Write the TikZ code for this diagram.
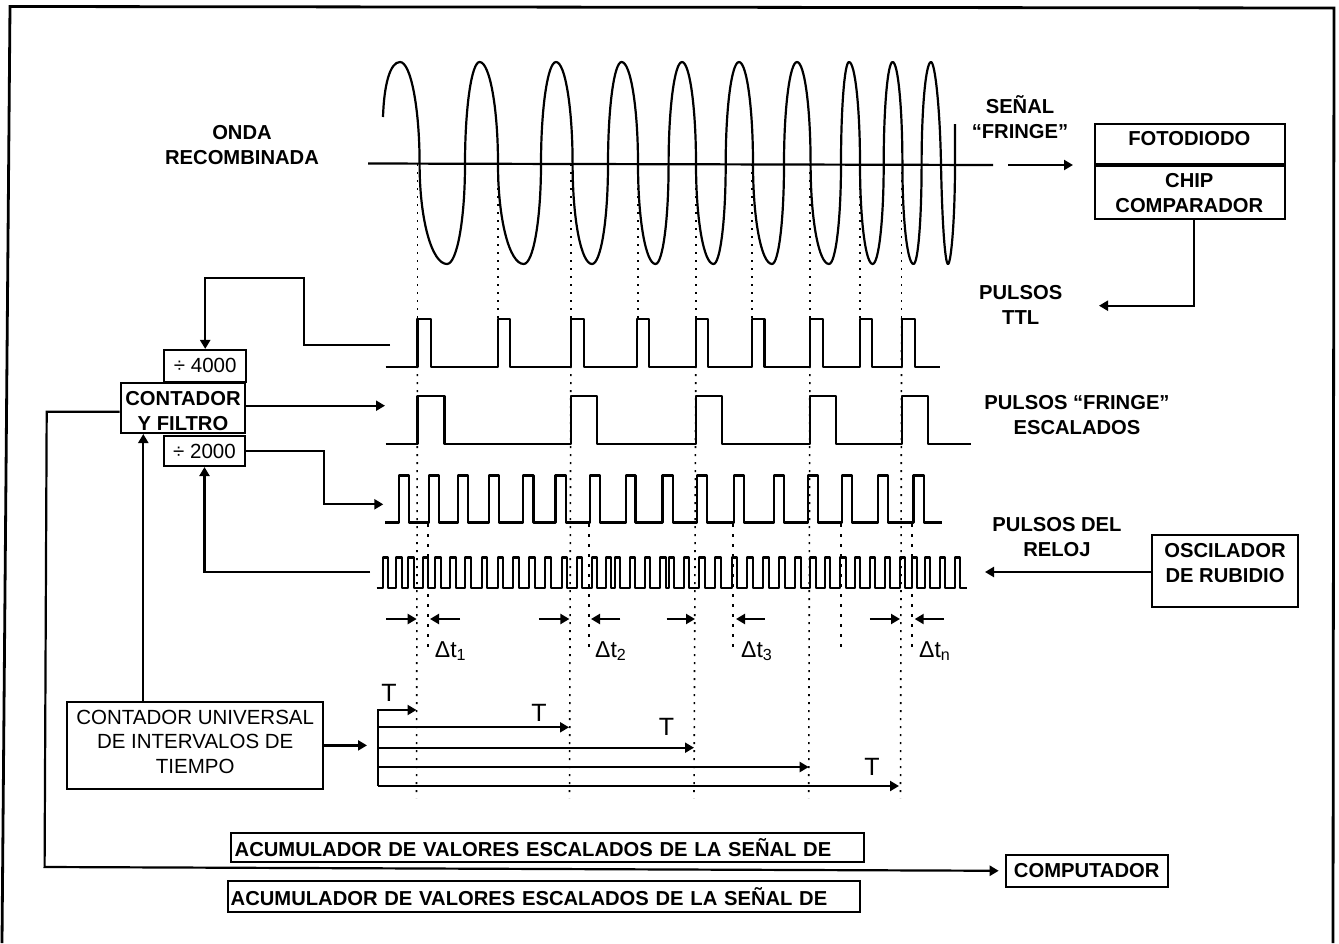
\documentclass[tikz,border=0pt]{standalone}
\usepackage{fontspec}
\setmainfont{Liberation Sans}
\usepackage{tikz}
\usetikzlibrary{arrows.meta}
\def\pulsos(#1:#2:#3:#4)#5{\draw[linea] (#3,#1) foreach \a/\b in {#5} { -- (\a,#1) -- (\a,#2) -- (\b,#2) -- (\b,#1)} -- (#4,#1);}
\tikzset{
	linea/.style={line width=2.2pt,line join=round},
	flecha/.style={line width=2.2pt,-{Triangle[length=9pt,width=10pt]}},
	puntos/.style={line width=1.6pt,dash pattern=on 2pt off 6pt},
	puntosb/.style={line width=2.2pt,dash pattern=on 3pt off 7pt},
	caja/.style={draw,line width=2pt,inner sep=0pt},
	negra/.style={inner sep=0pt,align=center,font=\fontsize{20.2}{25}\selectfont\bfseries},
	fina/.style={inner sep=0pt,align=center,font=\fontsize{20.5}{24.5}\selectfont},
	delta/.style={inner sep=0pt,anchor=base west,font=\fontsize{23}{25}\selectfont},
	letra/.style={inner sep=0pt,font=\fontsize{25}{25}\selectfont},
}

\begin{document}
\begin{tikzpicture}[x=1pt,y=-1pt]
			%%%%% START %%%%%
			\def\ycero{164}
			\def\ycima{62}
			\def\yvalle{264}
			\def\ydelta{619}
			\def\yfin{798}

			\useasboundingbox (0,0) rectangle (1339,943);
			\draw[line width=2.8pt] (2,943) -- (10,6.5) -- (1334,8) -- (1333,943);

			% onda
			\draw[linea] (383,117) .. controls (384,85) and (390,\ycima) .. (400,\ycima)
				foreach \p/\c/\m/\u/\n in {400/419.6/447/465/479.6,479.6/498/523.7/541/556,556/572.6/592/608/621.6,621.6/638/655.5/668.6/682,682/696/713.5/725.7/739,739/753/772/784/797,797/810.6/829/841/849,849/860/872.6/883.7/892.6,892.6/902.4/913.5/921.6/931}
				{ .. controls ({\p+0.55*(\c-\p)},\ycima) and (\c,108) .. (\c,\ycero)
				  .. controls (\c,220) and ({\m-0.55*(\m-\c)},\yvalle) .. (\m,\yvalle)
				  .. controls ({\m+0.55*(\u-\m)},\yvalle) and (\u,220) .. (\u,\ycero)
				  .. controls (\u,108) and ({\n-0.55*(\n-\u)},\ycima) .. (\n,\ycima)}
				.. controls (935,\ycima) and (940,108) .. (941,\ycero)
				.. controls (942,220) and (945,\yvalle) .. (948,\yvalle)
				.. controls (951,\yvalle) and (955,220) .. (955,\ycero) -- (955,124);

			\draw[linea] (368,163.5) -- (993,165);
			\coordinate (finSenal) at (1073,165);
			\draw[flecha] (1008,165) -- (finSenal);

			% punteados
			\foreach \x in {417.5,498,571,638,696,752,810,860,901.6}
				\draw[puntos] (\x,\ycero) -- (\x,318);
			\foreach \x/\w in {417.5/416.5,571/569.5,696/694,810/808.7,901.6/900.5}
				\draw[puntos] (\x,318) -- (\w,\yfin);
			\foreach \x in {427.8,589,733,841,912}
				\draw[puntosb] (\x,524) -- (\x,647);

			% pulsos
			\pulsos(367:319:385.7:940){417.5/430.6,498/510,571/583.7,637/649,696/708,752/764.5,810/823,860/872,901.6/914.7}
			\pulsos(444:396:385.7:970.6){417.5/444.5,571/597,696/721.6,810/836,901.6/927.8}
			\pulsos(522.5:475.5:385:942){399.2/408.6,429/439.2,457.6/467.8,489/499.2,522.9/533.5,555.5/566,589.8/599.6,625.7/635.5,662.4/672.7,697/707.3,734.3/744,773.9/783.7,808.2/818,842/852,878/888.2,913.5/923.7}
			\pulsos(588:557.5:376.7:966.7){383.3/388.3,396/402.3,407.7/414.3,423.3/428.3,435/441.3,450/456,465/471,481.7/486.7,497.7/503.3,513.3/519,529/535,545/551,561.7/567.3,576.7/582.3,591.7/597.3,605.7/610.7,615/620,630/635,645/650,660/666,669/674,684/689.3,699.3/705,715/720.7,732.3/737.3,747.3/752.7,763.3/769,779.3/785,795/800.7,810/815.7,825/830,840/845.7,855/860,870/875,885/890,900/905,911.7/916.7,925/930,940/945,955/960}

			% cajas
			\node[caja,minimum width=81.7pt,minimum height=31.7pt,fina] (divA) at (205.2,365.8) {÷ 4000};
			\node[caja,minimum width=124.6pt,minimum height=50.6pt] (contador) at (183,408) {};
			\node[negra] (contadorT) at (183,410.8) {CONTADOR\\Y FILTRO};
			\node[caja,minimum width=81.6pt,minimum height=30pt,fina] (divB) at (204.5,451) {÷ 2000};
			\node[caja,minimum width=190pt,minimum height=40.4pt] (fotodiodo) at (1190,143.8) {};
			\node[negra] (fotodiodoT) at (1189.3,139) {FOTODIODO};
			\node[caja,minimum width=190pt,minimum height=54.6pt] (chip) at (1190,191.3) {};
			\node[negra] (chipT) at (1189.3,193.2) {CHIP\\COMPARADOR};
			\draw[line width=3pt] (fotodiodo.south west) -- (fotodiodo.south east);
			\node[caja,minimum width=145.4pt,minimum height=72.9pt] (oscilador) at (1225,571) {};
			\node[negra] (osciladorT) at (1225,563.2) {OSCILADOR\\DE RUBIDIO};
			\node[caja,minimum width=256.3pt,minimum height=87.3pt] (universal) at (195.2,745.4) {};
			\node[fina] (universalT) at (195.2,741.5) {CONTADOR UNIVERSAL\\DE INTERVALOS DE\\TIEMPO};
			\node[caja,negra,minimum width=162pt,minimum height=31.7pt] (computador) at (1086.7,870.8) {COMPUTADOR};
			\node[caja,negra,minimum width=632.5pt,minimum height=29pt,text width=626pt,align=left] (acumA) at (547.7,847.2) {ACUMULADOR DE VALORES ESCALADOS DE LA SEÑAL DE};
			\node[caja,negra,minimum width=632pt,minimum height=31pt,text width=626pt,align=left] (acumB) at (543.7,896.2) {ACUMULADOR DE VALORES ESCALADOS DE LA SEÑAL DE};

			% textos
			\node[negra] (onda) at (242,145.3) {ONDA\\RECOMBINADA};
			\node[negra] (senal) at (1020,117.5) {SEÑAL\\“FRINGE”};
			\node[negra] (ttl) at (1020.7,304.6) {PULSOS\\TTL};
			\node[negra] (escalados) at (1077,415.5) {PULSOS “FRINGE”\\ESCALADOS};
			\node[negra] (reloj) at (1057,537.3) {PULSOS DEL\\RELOJ};
			\node[delta] (dtuno) at (434.7,657) {Δt\textsubscript{1}};
			\node[delta] (dtdos) at (595,657) {Δt\textsubscript{2}};
			\node[delta] (dttres) at (741,657) {Δt\textsubscript{3}};
			\node[delta] (dtn) at (919,657) {Δt\textsubscript{n}};
			\node[letra] (tuno) at (389,692.7) {T};
			\node[letra] (tdos) at (539,712.7) {T};
			\node[letra] (ttres) at (666.5,727) {T};
			\node[letra] (tcuatro) at (872,766.7) {T};

			% conectores
			\coordinate (salidaTtl) at (390,345);
			\draw[flecha] (salidaTtl) -- (304,345) -- (304,278.3) -| (divA.north);
			\coordinate (finEscala) at (385,405.7);
			\draw[flecha] (contador.east |- finEscala) -- (finEscala);
			\coordinate (finDos) at (383.3,504.3);
			\draw[flecha] (divB.east) -- (324,451) |- (finDos);
			\coordinate (salidaReloj) at (370,571.7);
			\draw[flecha] (salidaReloj) -| (divB.south);
			\coordinate (subida) at (143.3,434);
			\draw[flecha] (universal.north -| subida) -- (subida);
			\coordinate (salidaC) at (46.7,411.7);
			\draw[flecha,shorten >=6pt] (contador.west |- salidaC) -- (salidaC) -- (44.6,867) -- (computador.west);
			\coordinate (entradaT) at (367,745.4);
			\draw[flecha] (universal.east) -- (entradaT);
			\coordinate (codoTtl) at (1194,305.7);
			\coordinate (finTtl) at (1099,305.7);
			\draw[flecha] (chip.south -| codoTtl) -- (codoTtl) -- (finTtl);
			\coordinate (finOsc) at (985,572);
			\draw[flecha] (oscilador.west |- finOsc) -- (finOsc);

			% flechas de t
			\draw[linea] (378,709) -- (378,786);
			\draw[flecha] (378,710) -- (416.5,710);
			\draw[flecha] (378,727.3) -- (569,727.3);
			\draw[flecha] (378,747.7) -- (694,747.7);
			\draw[flecha] (378,767) -- (808.7,767);
			\draw[flecha] (378,786) -- (899,786);

			% flechas de delta
			\draw[flecha] (386,\ydelta) -- (416.7,\ydelta);
			\draw[flecha] (460,\ydelta) -- (430,\ydelta);
			\draw[flecha] (538.8,\ydelta) -- (569.4,\ydelta);
			\draw[flecha] (620.4,\ydelta) -- (591,\ydelta);
			\draw[flecha] (666.5,\ydelta) -- (695,\ydelta);
			\draw[flecha] (764.5,\ydelta) -- (736,\ydelta);
			\draw[flecha] (869.8,\ydelta) -- (900,\ydelta);
			\draw[flecha] (944,\ydelta) -- (914.7,\ydelta);
			%%%%% END %%%%%
		\end{tikzpicture}
\end{document}
